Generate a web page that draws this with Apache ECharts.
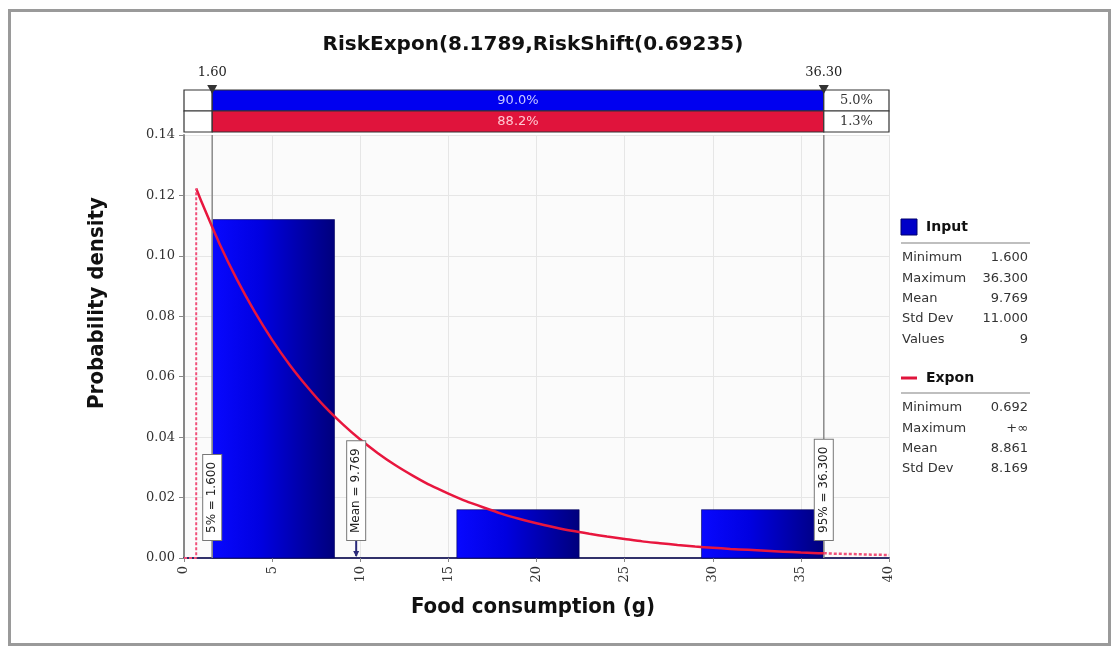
<!DOCTYPE html>
<html>
<head>
<meta charset="utf-8">
<script src="https://cdn.jsdelivr.net/npm/echarts@6/dist/echarts.min.js"></script>
<style>html,body{margin:0;padding:0;background:#fff}#c{width:1119px;height:653px}</style>
</head>
<body>
<div id="c"></div>
<script>
// ---------- data ----------
const titleText = 'RiskExpon(8.1789,RiskShift(0.69235)';
const xTitle = 'Food consumption (g)';
const yTitle = 'Probability density';
// histogram bins of the input data
const binStart = [1.6, 8.54, 15.48, 22.42, 29.36];
const binEnd   = [8.54, 15.48, 22.42, 29.36, 36.3];
const binDensity = [0.112, 0, 0.016, 0, 0.016];
// fitted exponential density
const curveX = [0.69235, 1, 2, 3, 4, 5, 6, 7, 8, 9, 10, 11, 12, 13, 14, 15, 16, 17, 18, 19, 20, 21, 22, 23, 24, 25, 26, 27, 28, 29, 30, 31, 32, 33, 34, 35, 36, 36.3];
const curveY = [0.1223, 0.1178, 0.1042, 0.0922, 0.0816, 0.0722, 0.0639, 0.0566, 0.0500, 0.0443, 0.0392, 0.0347, 0.0307, 0.0272, 0.0240, 0.0213, 0.0188, 0.0167, 0.0147, 0.0130, 0.0115, 0.0102, 0.0090, 0.0080, 0.0071, 0.0063, 0.0055, 0.0049, 0.0043, 0.0038, 0.0034, 0.0030, 0.0027, 0.0024, 0.0021, 0.0018, 0.0016, 0.0016];
const tailX = [36.3, 37, 38, 39, 40];
const tailY = [0.0016, 0.0014, 0.0013, 0.0011, 0.0010];
const headX = [0, 0.69235, 0.69235];
const headY = [0, 0, 0.1223];
// delimiters
const delimiters = [1.6, 36.3];
const delimiterText = ['1.60', '36.30'];
const rangeEdges = [0, 1.6, 36.3, 40];
const inputPct = ['', '90.0%', '5.0%'];
const fitPct = ['', '88.2%', '1.3%'];
// marker labels
const markerX = [1.6, 9.769, 36.3];
const markerText = ['5% = 1.600', 'Mean = 9.769', '95% = 36.300'];
// legend statistics
const inputStatNames = ['Minimum', 'Maximum', 'Mean', 'Std Dev', 'Values'];
const inputStatValues = ['1.600', '36.300', '9.769', '11.000', '9'];
const fitStatNames = ['Minimum', 'Maximum', 'Mean', 'Std Dev'];
const fitStatValues = ['0.692', '+\u221e', '8.861', '8.169'];
const xTicks = {min: 0, max: 40, interval: 5};
const yTicks = {min: 0, max: 0.14, interval: 0.02};

// ---------- chart ----------
const chart = echarts.init(document.getElementById('c'));
const FONT = 'DejaVu Sans';
const SERIF = 'DejaVu Serif';
const BLUE = '#0000f0';
const RED = '#e0143c';

const barGrad = new echarts.graphic.LinearGradient(0, 0, 1, 0, [
  {offset: 0, color: '#0808ff'},
  {offset: 0.4, color: '#0000e0'},
  {offset: 1, color: '#00007c'}
]);

// legend graphics
const legendEls = [];
const LX = 901, LR = 1028;
legendEls.push({type:'rect', shape:{x:LX, y:219, width:16, height:16}, style:{fill:'#0000c8', stroke:'#00006a'}});
legendEls.push({type:'text', x:926, y:227, style:{text:'Input', font:'bold 14px '+FONT, fill:'#111', verticalAlign:'middle'}});
legendEls.push({type:'line', shape:{x1:LX, y1:243, x2:1030, y2:243}, style:{stroke:'#aaa', lineWidth:1.5}});
inputStatNames.forEach((n, i) => {
  legendEls.push({type:'text', x:LX+1, y:258+i*20.3, style:{text:n, font:'13px '+FONT, fill:'#333', verticalAlign:'middle'}});
  legendEls.push({type:'text', x:LR, y:258+i*20.3, style:{text:inputStatValues[i], font:'13px '+FONT, fill:'#333', align:'right', verticalAlign:'middle'}});
});
legendEls.push({type:'line', shape:{x1:LX, y1:378, x2:917, y2:378}, style:{stroke:RED, lineWidth:3}});
legendEls.push({type:'text', x:926, y:378, style:{text:'Expon', font:'bold 14px '+FONT, fill:'#111', verticalAlign:'middle'}});
legendEls.push({type:'line', shape:{x1:LX, y1:393, x2:1030, y2:393}, style:{stroke:'#aaa', lineWidth:1.5}});
fitStatNames.forEach((n, i) => {
  legendEls.push({type:'text', x:LX+1, y:408+i*20.3, style:{text:n, font:'13px '+FONT, fill:'#333', verticalAlign:'middle'}});
  legendEls.push({type:'text', x:LR, y:408+i*20.3, style:{text:fitStatValues[i], font:'13px '+FONT, fill:'#333', align:'right', verticalAlign:'middle'}});
});

const option = {
  animation: false,
  backgroundColor: '#fff',
  graphic: [
    {type:'rect', shape:{x:9.5, y:10.5, width:1100, height:634}, style:{fill:'none', stroke:'#9a9a9a', lineWidth:3}, z:-1},
    {type:'text', x:533, y:45, style:{text:titleText, font:'bold 20px '+FONT, fill:'#111', align:'center', verticalAlign:'middle'}},
    {type:'text', x:97, y:303, rotation:Math.PI/2, style:{text:yTitle, font:'bold 22px "DejaVu Sans Condensed"', fill:'#111', align:'center', verticalAlign:'middle'}},
    {type:'text', x:533, y:607, style:{text:xTitle, font:'bold 22px "DejaVu Sans Condensed"', fill:'#111', align:'center', verticalAlign:'middle'}},
    ...legendEls
  ],
  grid: [
    {left:184, top:135, width:705, height:423, show:true, backgroundColor:'#fbfbfb', borderWidth:0},
    {left:184, top:90, width:705, height:42, show:false}
  ],
  xAxis: [
    {gridIndex:0, type:'value', min:xTicks.min, max:xTicks.max, interval:xTicks.interval,
     axisLine:{show:true, onZero:false, lineStyle:{color:'#30306a', width:2}},
     axisTick:{show:true, length:4, lineStyle:{color:'#888'}},
     axisLabel:{rotate:90, fontSize:13, fontFamily:SERIF, color:'#333', margin:8},
     splitLine:{show:true, lineStyle:{color:'#e6e6e6'}}},
    {gridIndex:1, type:'value', min:xTicks.min, max:xTicks.max, show:false}
  ],
  yAxis: [
    {gridIndex:0, type:'value', min:yTicks.min, max:yTicks.max, interval:yTicks.interval,
     axisLine:{show:true, lineStyle:{color:'#888', width:2}},
     axisTick:{show:true, length:5, lineStyle:{color:'#888'}},
     axisLabel:{fontSize:13, fontFamily:SERIF, color:'#333', margin:9, formatter:v => v.toFixed(2)},
     splitLine:{show:true, lineStyle:{color:'#e6e6e6'}}},
    {gridIndex:1, type:'category', data:['Input','Fit'], inverse:true, show:false}
  ],
  series: [
    // histogram
    {type:'custom', xAxisIndex:0, yAxisIndex:0, z:2,
     data: binStart.map((s, i) => [s, binEnd[i], binDensity[i]]),
     renderItem: (params, api) => {
       const h = api.value(2);
       if (!h) return null;
       const p0 = api.coord([api.value(0), h]);
       const p1 = api.coord([api.value(1), 0]);
       return {type:'rect', shape:{x:p0[0], y:p0[1], width:p1[0]-p0[0], height:p1[1]-p0[1]},
               style:{fill:barGrad, stroke:'#00005a', lineWidth:0.6}};
     }},
    // delimiter vertical lines in plot
    {type:'custom', xAxisIndex:0, yAxisIndex:0, z:3,
     data: delimiters.map(d => [d]),
     renderItem: (params, api) => {
       const a = api.coord([api.value(0), yTicks.max]);
       const b = api.coord([api.value(0), 0]);
       return {type:'line', shape:{x1:a[0], y1:a[1], x2:b[0], y2:b[1]}, style:{stroke:'#8a8a8a', lineWidth:1.5}};
     }},
    // fitted curve
    {type:'line', xAxisIndex:0, yAxisIndex:0, z:5, symbol:'none', smooth:0.2,
     data: curveX.map((x, i) => [x, curveY[i]]),
     lineStyle:{color:'#e8163e', width:2.5}},
    {type:'line', xAxisIndex:0, yAxisIndex:0, z:5, symbol:'none',
     data: tailX.map((x, i) => [x, tailY[i]]),
     lineStyle:{color:'#f0507a', width:2.5, type:[3,2]}},
    {type:'line', xAxisIndex:0, yAxisIndex:0, z:5, symbol:'none',
     data: headX.map((x, i) => [x, headY[i]]),
     lineStyle:{color:'#f0507a', width:2, type:[3,2]}},
    // marker labels
    {type:'custom', xAxisIndex:0, yAxisIndex:0, z:8,
     data: markerX.map(x => [x]),
     renderItem: (params, api) => {
       const x = api.value(0);
       const base = api.coord([x, 0]);
       const els = [];
       if (params.dataIndex === 1) {
         els.push({type:'line', shape:{x1:base[0], y1:base[1]-18, x2:base[0], y2:base[1]-2}, style:{stroke:'#2a2a7a', lineWidth:2}});
         els.push({type:'polygon', shape:{points:[[base[0]-3, base[1]-7],[base[0]+3, base[1]-7],[base[0], base[1]-1]]}, style:{fill:'#2a2a7a'}});
       }
       els.push({type:'text', x:base[0], y:base[1]-18, rotation:Math.PI/2,
         style:{text:markerText[params.dataIndex], font:'12px '+FONT, fill:'#222', align:'left', verticalAlign:'middle',
                backgroundColor:'#fff', borderColor:'#777', borderWidth:1, padding:[3,7,3,7]}});
       return {type:'group', children:els};
     }},
    // top delimiter bars
    {type:'custom', xAxisIndex:1, yAxisIndex:1, z:2,
     data: [0,1].flatMap(r => [0,1,2].map(c => [rangeEdges[c], rangeEdges[c+1], r, c])),
     renderItem: (params, api) => {
       const r = api.value(2), c = api.value(3);
       const p0 = api.coord([api.value(0), r]);
       const p1 = api.coord([api.value(1), r]);
       const hh = api.size([0, 1])[1];
       const y0 = p0[1] - hh/2;
       let fill = '#fff', tc = '#333', ff = SERIF;
       if (c === 1) { fill = r === 0 ? BLUE : RED; tc = r === 0 ? '#c8c8ff' : '#ffc8d2'; ff = FONT; }
       const txt = (r === 0 ? inputPct : fitPct)[c];
       return {type:'rect', shape:{x:p0[0], y:y0, width:p1[0]-p0[0], height:hh},
               style:{fill:fill, stroke:'#333', lineWidth:1.2},
               textContent:{style:{text:txt, font:'13px '+ff, fill:tc}},
               textConfig:{position:'inside'}};
     }},
    // delimiter markers above
    {type:'custom', xAxisIndex:1, yAxisIndex:1, z:6,
     data: delimiters.map(d => [d, 0]),
     renderItem: (params, api) => {
       const p = api.coord([api.value(0), 0]);
       const top = p[1] - api.size([0,1])[1]/2;
       return {type:'group', children:[
         {type:'polygon', shape:{points:[[p[0]-5, top-5],[p[0]+5, top-5],[p[0], top+4]]}, style:{fill:'#333'}},
         {type:'text', x:p[0], y:top-17, style:{text:delimiterText[params.dataIndex], font:'13px '+SERIF, fill:'#222', align:'center', verticalAlign:'middle'}}
       ]};
     }}
  ]
};
chart.setOption(option);
</script>
</body>
</html>
